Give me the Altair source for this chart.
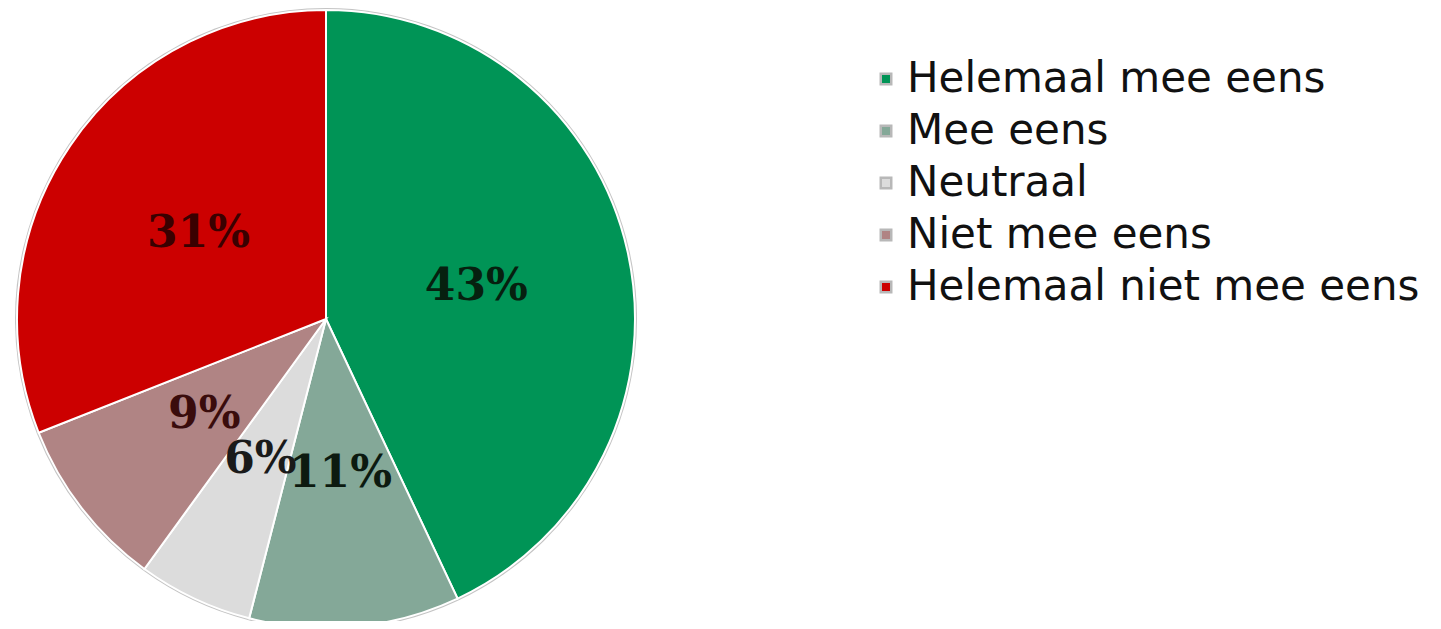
import altair as alt
import pandas as pd

categories = ["Helemaal mee eens", "Mee eens", "Neutraal", "Niet mee eens", "Helemaal niet mee eens"]
values = [43, 11, 6, 9, 31]
labels = ["43%", "11%", "6%", "9%", "31%"]
order = [0, 1, 2, 3, 4]

fill_colors = ["#009456", "#84a898", "#dcdcdc", "#b08484", "#cc0000"]
text_colors = ["#06200f", "#0c1a10", "#1a1a1a", "#3a0c0c", "#3a0000"]

df = pd.DataFrame({"cat": categories, "val": values, "lab": labels, "ord": order})

CX, CY, R = 318, 311, 309

base = alt.Chart(df).encode(
    theta=alt.Theta("val:Q", stack=True),
    order=alt.Order("ord:Q"),
    x=alt.value(CX),
    y=alt.value(CY),
)

ring = base.mark_arc(radius=R + 2, fill="#c4c4c4", strokeWidth=0)

arcs = base.mark_arc(radius=R, stroke="#ffffff", strokeWidth=2).encode(
    color=alt.Color(
        "cat:N",
        sort=categories,
        scale=alt.Scale(domain=categories, range=fill_colors),
        legend=alt.Legend(
            title=None,
            orient="none",
            legendX=857,
            legendY=50,
            padding=0,
            labelFont="DejaVu Sans",
            labelFontSize=42,
            labelColor="#111111",
            symbolType="square",
            symbolSize=110,
            symbolStrokeColor="#b8b8b8",
            symbolStrokeWidth=2.5,
            symbolOffset=0,
            labelOffset=0,
            rowPadding=10,
            labelLimit=800,
        ),
    )
)

texts = base.mark_text(
    radius=154, font="DejaVu Serif", fontSize=44, fontWeight="bold", dy=2
).encode(
    text="lab:N",
    color=alt.Color("cat:N", scale=alt.Scale(domain=categories, range=text_colors), legend=None),
)

chart = (
    alt.layer(ring, arcs, texts)
    .resolve_scale(color="independent")
    .properties(width=1425, height=613, padding=0, autosize=alt.AutoSizeParams(type="none"))
    .configure_view(strokeWidth=0, stroke="transparent")
)

chart.save("out.html", embed_options={"renderer": "svg", "actions": False})
